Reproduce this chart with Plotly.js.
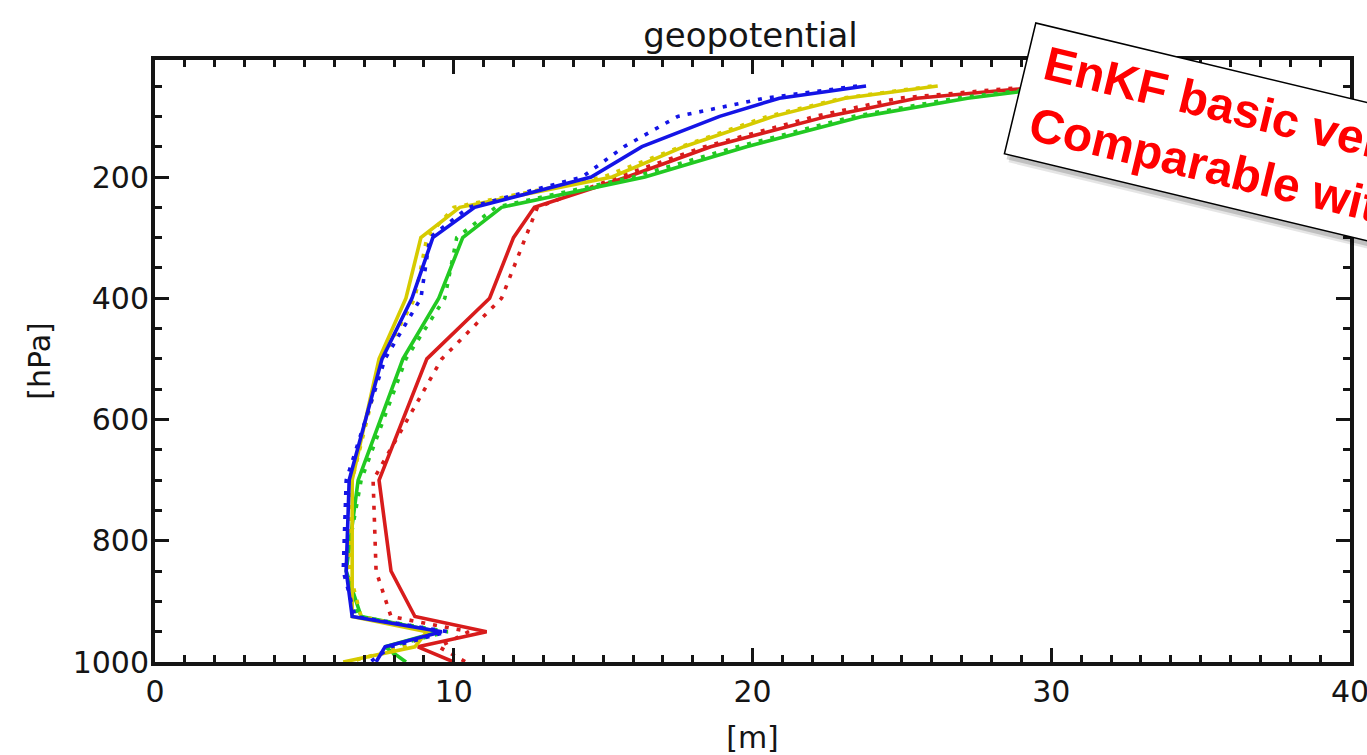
<!DOCTYPE html>
<html>
<head>
<meta charset="utf-8">
<script src="https://cdn.plot.ly/plotly-3.0.1.min.js"></script>
<style>html,body{margin:0;padding:0;background:#fff;}#chart{width:1367px;height:755px;}</style>
</head>
<body>
<div id="chart"></div>
<script>
// pressure levels [hPa]
const pressure = [50, 70, 100, 150, 200, 250, 300, 400, 500, 700, 850, 925, 950, 975, 1000];
// geopotential error profiles [m]
const redSolid    = [30.0, 25.5, 22.5, 18.6, 15.8, 12.7, 12.0, 11.2, 9.1, 7.5, 7.9, 8.7, 11.1, 8.8, 10.0];
const redDot      = [29.5, 24.9, 22.1, 18.4, 15.5, 12.8, 12.4, 11.6, 9.6, 7.3, 7.4, 7.9, 10.5, 9.5, 10.4];
const greenSolid  = [30.5, 27.2, 23.7, 19.8, 16.4, 11.6, 10.3, 9.5, 8.3, 6.8, 6.4, 6.9, 9.5, 7.7, 8.4];
const greenDot    = [30.2, 26.8, 23.4, 19.5, 16.0, 11.4, 10.1, 9.7, 8.4, 6.9, 6.35, 6.8, 9.8, 7.8, 8.2];
const yellowSolid = [26.2, 23.1, 20.7, 17.7, 15.3, 10.2, 8.9, 8.4, 7.5, 6.6, 6.6, 6.6, 9.1, 8.7, 6.3];
const yellowDot   = [26.0, 23.0, 20.5, 17.6, 15.0, 10.0, 9.1, 8.7, 7.6, 6.6, 6.5, 6.9, 9.3, 8.3, 6.5];
const blueSolid   = [23.8, 20.9, 18.9, 16.3, 14.6, 10.7, 9.3, 8.6, 7.6, 6.5, 6.4, 6.6, 9.6, 7.7, 7.4];
const blueDot     = [23.5, 20.4, 17.5, 15.7, 14.3, 10.5, 9.2, 8.9, 7.7, 6.4, 6.3, 6.7, 9.8, 7.9, 7.2];

const titleText = 'geopotential';
const xTitle = '[m]';
const yTitle = '[hPa]';
const noteLines = ['EnKF basic version', 'Comparable with'];

const RED = '#d81c1c', GREEN = '#22c922', YELLOW = '#d6cb00', BLUE = '#1414e6';
const DOT = '4px,8px';

function tr(x, color, dash) {
  return {x: x, y: pressure, type: 'scatter', mode: 'lines',
    line: {color: color, width: 3.6, dash: dash}, hoverinfo: 'skip', showlegend: false};
}
const data = [
  tr(redSolid, RED, 'solid'), tr(redDot, RED, DOT),
  tr(greenSolid, GREEN, 'solid'), tr(greenDot, GREEN, DOT),
  tr(yellowSolid, YELLOW, 'solid'), tr(yellowDot, YELLOW, DOT),
  tr(blueSolid, BLUE, 'solid'), tr(blueDot, BLUE, DOT)
];

const INK = '#151515';
const tickFont = {family: 'DejaVu Sans', size: 30, color: INK};
const axisCommon = {
  showgrid: false, zeroline: false, showline: true, linecolor: INK, linewidth: 4,
  mirror: 'allticks', ticks: 'inside', ticklen: 14, tickwidth: 3, tickcolor: INK,
  tickfont: tickFont, ticklabeloverflow: 'allow'
};

const boxText = noteLines.map(s => '\u00A0' + s).join('<br>');
const noteCommon = {
  xref: 'paper', yref: 'paper', x: 0.9736, y: 0.8347, xanchor: 'center', yanchor: 'middle',
  textangle: 13.5, width: 603, height: 125, align: 'left', valign: 'middle', showarrow: false
};

const layout = {
  width: 1367, height: 755,
  margin: {l: 155, r: 17, t: 60, b: 93},
  paper_bgcolor: '#fff', plot_bgcolor: '#fff',
  title: {text: titleText, font: {family: 'DejaVu Sans', size: 34, color: INK},
          x: 0.549, xanchor: 'center', y: 0.953, yanchor: 'middle'},
  xaxis: Object.assign({}, axisCommon, {
    range: [0, 40], dtick: 10, tick0: 0, ticklabelstandoff: 0,
    minor: {ticks: 'inside', ticklen: 7, tickwidth: 3, tickcolor: INK, dtick: 1},
    title: {text: xTitle, font: {family: 'DejaVu Sans', size: 30, color: INK}, standoff: 21}
  }),
  yaxis: Object.assign({}, axisCommon, {
    range: [1000, 7], dtick: 200, tick0: 0, ticklabelstandoff: -4,
    minor: {ticks: 'inside', ticklen: 7, tickwidth: 3, tickcolor: INK, dtick: 50},
    title: {text: yTitle, font: {family: 'DejaVu Sans', size: 30, color: INK}, standoff: 14}
  }),
  annotations: [
    Object.assign({}, noteCommon, {text: ' ', bgcolor: 'rgba(0,0,0,0.10)', borderwidth: 0, borderpad: 5.5, xshift: 5, yshift: -8}),
    Object.assign({}, noteCommon, {text: ' ', bgcolor: 'rgba(0,0,0,0.16)', borderwidth: 0, borderpad: 5.5, xshift: 3, yshift: -5}),
    Object.assign({}, noteCommon, {
      text: boxText, bgcolor: '#ffffff', bordercolor: '#000', borderwidth: 1.5, borderpad: 4,
      font: {family: 'Liberation Sans, Arial, sans-serif', size: 48, color: '#ff0000', weight: 'bold'}
    })
  ]
};

Plotly.newPlot('chart', data, layout, {displayModeBar: false, staticPlot: true});
</script>
</body>
</html>
